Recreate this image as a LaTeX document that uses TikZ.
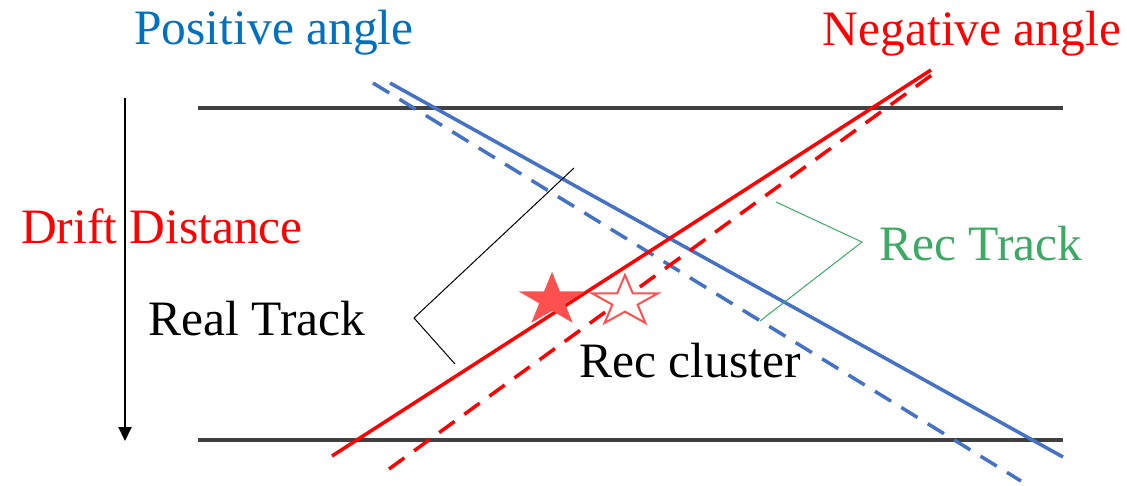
\documentclass[tikz,border=0pt]{standalone}
\usepackage{fontspec}
\setmainfont{Liberation Serif}
\usetikzlibrary{arrows.meta}
\definecolor{posblue}{RGB}{0,112,192}
\definecolor{lineblue}{RGB}{68,114,196}
\definecolor{recgreen}{RGB}{60,170,100}
\definecolor{starred}{RGB}{255,80,80}
\definecolor{railgray}{RGB}{64,64,64}
\tikzset{
  rail/.style={draw=railgray, line width=3.5pt},
  blueline/.style={draw=lineblue, line width=3.5pt},
  redline/.style={draw=red, line width=3.5pt},
  dashpat/.style={dash pattern=on 19pt off 12pt},
  lbl/.style={anchor=base, inner sep=0pt, font=\fontsize{49.5}{52}\selectfont},
  callout/.style={draw=black, line width=1pt},
  gcallout/.style={draw=recgreen, line width=1pt},
}
\begin{document}
\begin{tikzpicture}[x=1pt,y=-1pt]
\useasboundingbox (0,0) rectangle (1127,485);
% rails
\coordinate (r1a) at (198,108); \coordinate (r1b) at (1063,108);
\coordinate (r2a) at (198,440); \coordinate (r2b) at (1063,440);
\draw[rail] (r1a) -- (r1b);
\draw[rail] (r2a) -- (r2b);
% drift arrow
\coordinate (da) at (125,98); \coordinate (db) at (125,441);
\draw[line width=2pt, -{Triangle[width=13pt,length=14pt]}] (da) -- (db);
% blue lines
\coordinate (bs1) at (390,83); \coordinate (bs2) at (1063,457);
\coordinate (bd1) at (373,83); \coordinate (bd2) at (1021,481);
\draw[blueline] (bs1) -- (bs2);
\draw[blueline, dashpat] (bd1) -- (bd2);
% red lines
\coordinate (rs1) at (332,456); \coordinate (rs2) at (931,70);
\coordinate (rd1) at (389,469); \coordinate (rd2) at (940,69);
\draw[redline] (rs1) -- (rs2);
\draw[redline, dashpat] (rd1) -- (rd2);
% stars
\draw[fill=starred, draw=none, shift={(552,300)}, xscale=35.2, yscale=28.2]
  (270:1) -- (306:0.382) -- (342:1) -- (18:0.382) -- (54:1) -- (90:0.382)
  -- (126:1) -- (162:0.382) -- (198:1) -- (234:0.382) -- cycle;
\draw[draw=starred, line width=2pt, fill=white, shift={(625,301.5)}, xscale=34.7, yscale=26.5]
  (270:1) -- (306:0.382) -- (342:1) -- (18:0.382) -- (54:1) -- (90:0.382)
  -- (126:1) -- (162:0.382) -- (198:1) -- (234:0.382) -- cycle;
% labels
\node[lbl, text=posblue] (pos) at (274,44) {Positive angle};
\node[lbl, text=red] (neg) at (972,45) {Negative angle};
\node[lbl, text=red] (drift) at (162,243) {Drift Distance};
\node[lbl, text=black] (real) at (257,335) {Real Track};
\node[lbl, text=recgreen] (rectrack) at (981,260) {Rec Track};
\node[lbl, text=black] (reccl) at (690,377) {Rec cluster};
% callouts
\coordinate (c1) at (574,168); \coordinate (c2) at (414,318); \coordinate (c3) at (455,364);
\draw[callout] (c1) -- (c2) -- (c3);
\coordinate (g1) at (776,202); \coordinate (g2) at (862,242); \coordinate (g3) at (760,321);
\draw[gcallout] (g1) -- (g2) -- (g3);
\end{tikzpicture}
\end{document}
